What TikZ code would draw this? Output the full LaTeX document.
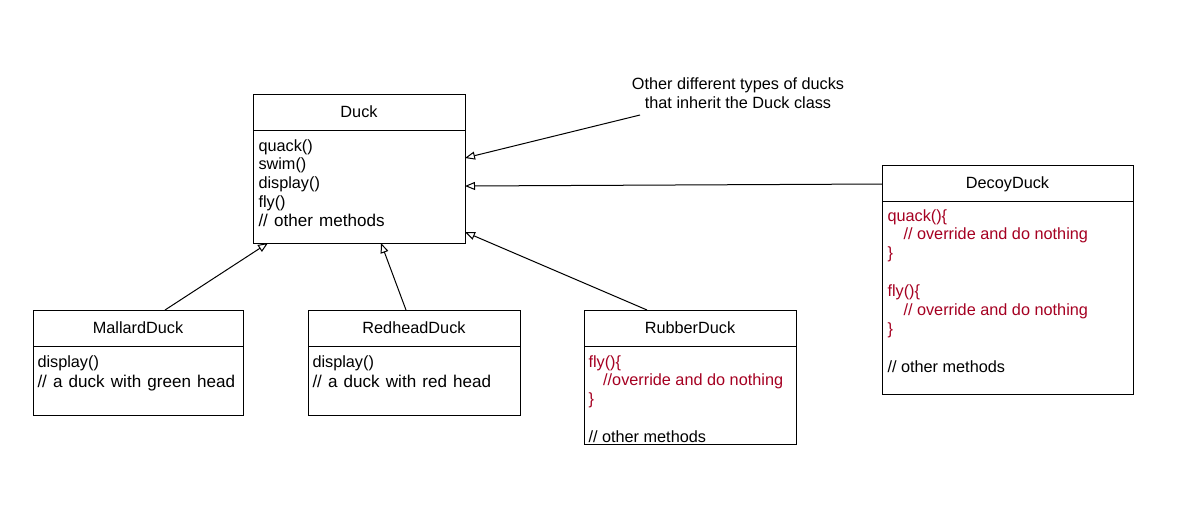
\documentclass[tikz,border=0pt]{standalone}
\usepackage{fontspec}
\setmainfont{Liberation Sans}
\usetikzlibrary{arrows.meta,calc}
\definecolor{codered}{RGB}{165,0,33}
\begin{document}
\begin{tikzpicture}[x=0.75pt,y=-0.75pt,line width=0.75pt,
  font=\fontsize{12.2pt}{14.2pt}\selectfont,
  box/.style={draw,anchor=north west,inner sep=0pt,outer sep=0pt},
  title/.style={anchor=center,inner sep=0pt},
  body/.style={anchor=base west,inner sep=0pt},
  inh/.style={-{Triangle[open,length=7.5pt,width=6pt]}}]
\useasboundingbox (0,0) rectangle (1178,512);
\newcommand{\rd}[1]{\textcolor{codered}{#1}}
\newcommand{\wide}[1]{{\fontsize{12.8pt}{14.2pt}\selectfont\spaceskip=4.6pt\relax #1}}
% Duck
\node[box,minimum width=159pt,minimum height=111.75pt] (duck) at (253,94) {};
\draw ($(duck.north west)+(0,36)$) -- ($(duck.north east)+(0,36)$);
\node[title] (duckT) at ($(duck.north)+(0,18)$) {Duck};
\node[body] (duckB) at ($(duck.north west)+(5,57)$) {\begin{tabular}[t]{@{}l@{}}quack()\\swim()\\display()\\fly()\\\wide{// other methods}\end{tabular}};
% Mallard
\node[box,minimum width=157.5pt,minimum height=78.75pt] (mallard) at (33,310) {};
\draw ($(mallard.north west)+(0,36)$) -- ($(mallard.north east)+(0,36)$);
\node[title] (mallardT) at ($(mallard.north)+(0,18)$) {MallardDuck};
\node[body] (mallardB) at ($(mallard.north west)+(4,57)$) {\begin{tabular}[t]{@{}l@{}}display()\\[1pt]\wide{// a duck with green head}\end{tabular}};
% Redhead
\node[box,minimum width=159pt,minimum height=78.75pt] (redhead) at (308,310) {};
\draw ($(redhead.north west)+(0,36)$) -- ($(redhead.north east)+(0,36)$);
\node[title] (redheadT) at ($(redhead.north)+(0,18)$) {RedheadDuck};
\node[body] (redheadB) at ($(redhead.north west)+(4,57)$) {\begin{tabular}[t]{@{}l@{}}display()\\[1pt]\wide{// a duck with red head}\end{tabular}};
% Rubber
\node[box,minimum width=159pt,minimum height=100.5pt] (rubber) at (584,310) {};
\draw ($(rubber.north west)+(0,36)$) -- ($(rubber.north east)+(0,36)$);
\node[title] (rubberT) at ($(rubber.north)+(0,18)$) {RubberDuck};
\node[body] (rubberB) at ($(rubber.north west)+(4,57)$) {\begin{tabular}[t]{@{}l@{}}\rd{fly()\{}\\\rd{\hspace*{11pt}//override and do nothing}\\\rd{\}}\\ \\// other methods\end{tabular}};
% Decoy
\node[box,minimum width=188.25pt,minimum height=171.75pt] (decoy) at (882,165) {};
\draw ($(decoy.north west)+(0,36)$) -- ($(decoy.north east)+(0,36)$);
\node[title] (decoyT) at ($(decoy.north)+(0,19)$) {DecoyDuck};
\node[body] (decoyB) at ($(decoy.north west)+(5,56)$) {\begin{tabular}[t]{@{}l@{}}\rd{quack()\{}\\\rd{\hspace*{12pt}// override and do nothing}\\\rd{\}}\\ \\\rd{fly()\{}\\\rd{\hspace*{12pt}// override and do nothing}\\\rd{\}}\\ \\// other methods\end{tabular}};
% note
\node[align=center,inner sep=0pt] (note) at (738,93) {Other different types of ducks\\that inherit the Duck class};
\coordinate (noteptr) at (640,115);
% connectors
\draw[inh] ($(mallard.north west)+(132,0)$) -- ($(duck.south west)+(15,0)$);
\draw[inh] ($(redhead.north west)+(98,0)$) -- ($(duck.south west)+(128,0)$);
\draw[inh] ($(rubber.north west)+(63,0)$) -- ($(duck.south east)+(0,-11)$);
\draw[inh] ($(decoy.north west)+(0,19)$) -- ($(duck.north east)+(0,92)$);
\draw[inh] (noteptr) -- ($(duck.north east)+(0,64)$);
\end{tikzpicture}
\end{document}
